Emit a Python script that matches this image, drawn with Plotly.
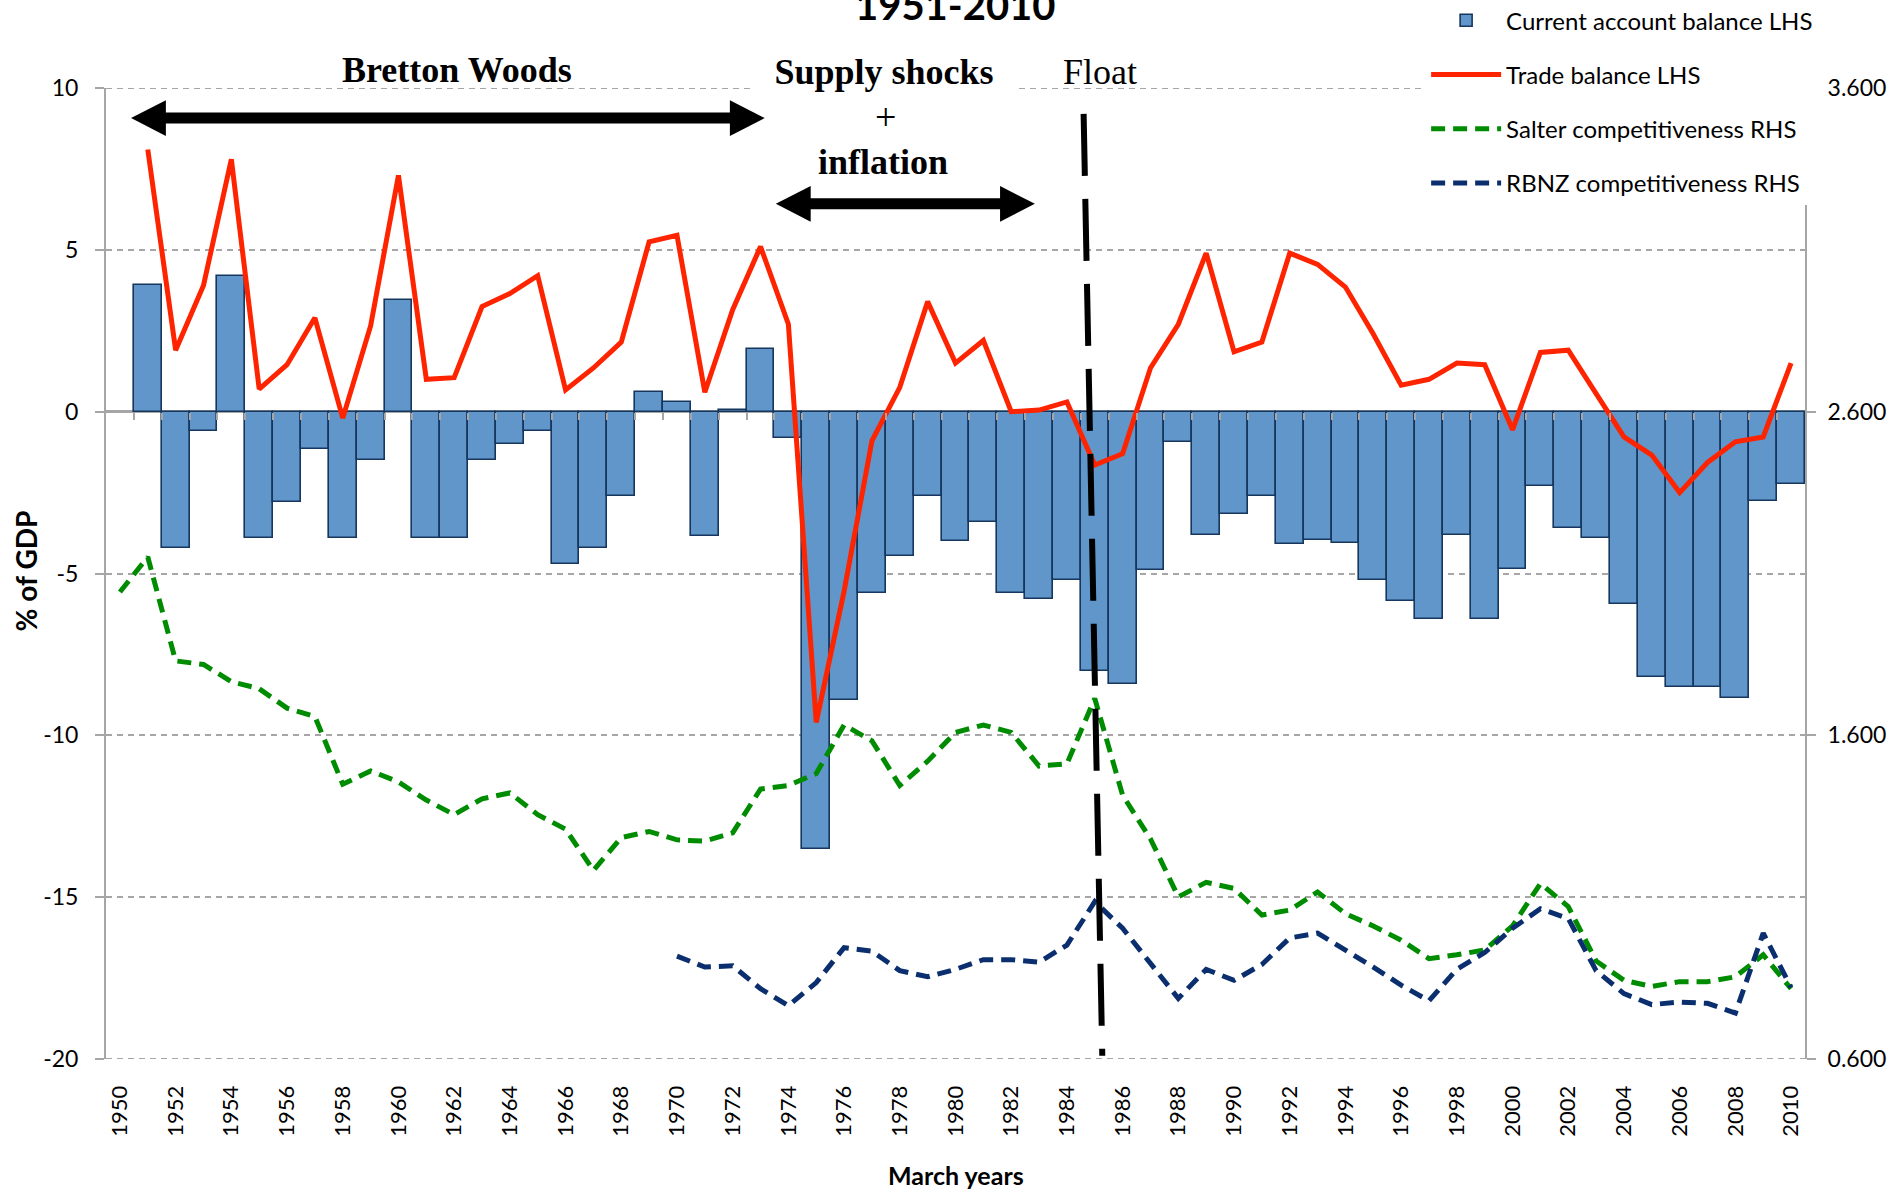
import plotly.graph_objects as go

years = list(range(1950, 2011))

current_account = [None,
    3.9, -4.2, -0.6, 4.2, -3.9, -2.8, -1.15, -3.9, -1.5, 3.45,
    -3.9, -3.9, -1.5, -1.0, -0.6, -4.7, -4.2, -2.6, 0.6, 0.3,
    -3.85, 0.05, 1.95, -0.8, -13.5, -8.9, -5.6, -4.45, -2.6, -4.0,
    -3.4, -5.6, -5.8, -5.2, -8.0, -8.4, -4.9, -0.95, -3.8, -3.15,
    -2.6, -4.1, -3.95, -4.05, -5.2, -5.85, -6.4, -3.8, -6.4, -4.85,
    -2.3, -3.6, -3.9, -5.95, -8.2, -8.5, -8.5, -8.85, -2.75, -2.25]

trade_balance = [None,
    8.1, 1.9, 3.9, 7.8, 0.7, 1.45, 2.9, -0.2, 2.65, 7.3,
    1.0, 1.05, 3.25, 3.65, 4.2, 0.67, 1.35, 2.15, 5.25, 5.45,
    0.6, 3.15, 5.1, 2.7, -9.6, -5.55, -0.9, 0.75, 3.4, 1.5,
    2.2, 0.0, 0.05, 0.3, -1.65, -1.3, 1.35, 2.7, 4.9, 1.85,
    2.15, 4.9, 4.55, 3.85, 2.4, 0.82, 1.0, 1.5, 1.45, -0.56,
    1.83, 1.9, 0.56, -0.78, -1.34, -2.5, -1.57, -0.93, -0.78, 1.5]

salter = [2.043,
    2.151, 1.830, 1.819, 1.766, 1.744, 1.684, 1.658, 1.449, 1.490, 1.456,
    1.400, 1.355, 1.404, 1.422, 1.355, 1.310, 1.183, 1.284, 1.303, 1.277,
    1.273, 1.299, 1.434, 1.445, 1.482, 1.632, 1.583, 1.445, 1.520, 1.609,
    1.632, 1.609, 1.505, 1.512, 1.714, 1.415, 1.280, 1.101, 1.146, 1.127,
    1.045, 1.060, 1.116, 1.049, 1.011, 0.967, 0.910, 0.922, 0.937, 1.011,
    1.142, 1.071, 0.903, 0.843, 0.824, 0.839, 0.839, 0.854, 0.922, 0.817]

rbnz = [None] * 20 + [0.918,
    0.884, 0.888, 0.817, 0.765, 0.836, 0.944, 0.933, 0.873, 0.854, 0.877,
    0.907, 0.907, 0.899, 0.952, 1.086, 1.004, 0.895, 0.787, 0.877, 0.843,
    0.892, 0.974, 0.989, 0.937, 0.884, 0.828, 0.780, 0.877, 0.929, 1.004,
    1.064, 1.034, 0.873, 0.802, 0.768, 0.776, 0.772, 0.742, 0.989, 0.821]

x_ticks = list(range(1950, 2011, 2))
lhs_ticks = [-20, -15, -10, -5, 0, 5, 10]
lhs_labels = ["-20", "-15", "-10", "-5", "0", "5", "10"]
rhs_ticks = [0.6, 1.6, 2.6, 3.6]

CALIBRI = "Lato"
SERIF = "Liberation Serif"
GRID = "#A6A6A6"

fig = go.Figure()
fig.add_trace(go.Bar(
    x=years, y=current_account, name="Current account balance LHS",
    marker=dict(color="#6096CA", line=dict(color="#17365D", width=1.6)),
    legendgroup="a"))
fig.add_trace(go.Scatter(
    x=years, y=trade_balance, name="Trade balance LHS", mode="lines",
    line=dict(color="#FF2400", width=5), legendgroup="b"))
fig.add_trace(go.Scatter(
    x=years, y=salter, name="Salter competitiveness RHS", mode="lines",
    line=dict(color="#008C00", width=5, dash="14px,8px"), yaxis="y2",
    legendgroup="c"))
fig.add_trace(go.Scatter(
    x=years, y=rbnz, name="RBNZ competitiveness RHS", mode="lines",
    line=dict(color="#0B2F6E", width=5, dash="14px,8px"), yaxis="y2",
    legendgroup="d"))
# dummy trace so the boundary-tick axis on the zero line is rendered
fig.add_trace(go.Scatter(x=[years[0]], y=[None], xaxis="x2", yaxis="y",
                         showlegend=False, hoverinfo="skip"))

# ---- decorations: period arrows, float line, labels ----
def double_arrow(x0, x1, y, head_len=1.25, head_half=0.55, width=11):
    return [
        dict(type="line", xref="x", yref="y", x0=x0 + head_len * 0.8, x1=x1 - head_len * 0.8,
             y0=y, y1=y, line=dict(color="black", width=width), layer="above"),
        dict(type="path", xref="x", yref="y", fillcolor="black", line=dict(width=0),
             path=f"M {x0},{y} L {x0 + head_len},{y + head_half} L {x0 + head_len},{y - head_half} Z",
             layer="above"),
        dict(type="path", xref="x", yref="y", fillcolor="black", line=dict(width=0),
             path=f"M {x1},{y} L {x1 - head_len},{y + head_half} L {x1 - head_len},{y - head_half} Z",
             layer="above"),
    ]

bretton_arrow = (1950.4, 1973.15, 9.07)
supply_arrow = (1973.55, 1982.85, 6.42)
float_line = (1984.6, 9.2, 1985.27, -19.9)

shapes = []
# dashed gridlines at both ends of the LHS range (plotly omits edge gridlines)
for edge in (lhs_ticks[0], lhs_ticks[-1]):
    shapes.append(dict(type="line", xref="paper", yref="y", x0=0, x1=1, y0=edge, y1=edge,
                       line=dict(color=GRID, width=2, dash="6px,5px"), layer="below"))
shapes += double_arrow(*bretton_arrow)
shapes += double_arrow(*supply_arrow)
shapes.append(dict(type="line", xref="x", yref="y",
                   x0=float_line[0], y0=float_line[1], x1=float_line[2], y1=float_line[3],
                   line=dict(color="black", width=6, dash="62px,23px"), layer="above"))

annotations = [
    dict(text="<b>Bretton Woods</b>", x=1962.1, y=1.0185, xref="x", yref="paper",
         yanchor="middle", showarrow=False, font=dict(family=SERIF, size=36, color="black")),
    dict(text="<b>Supply shocks</b>", x=1977.45, y=1.016, xref="x", yref="paper",
         yanchor="middle", showarrow=False, bgcolor="white", width=262, height=44,
         font=dict(family=SERIF, size=36, color="black")),
    dict(text="+", x=1977.5, y=9.1, xref="x", yref="y", showarrow=False,
         font=dict(family=SERIF, size=38, color="black")),
    dict(text="<b>inflation</b>", x=1977.4, y=7.72, xref="x", yref="y", showarrow=False,
         font=dict(family=SERIF, size=36, color="black")),
    dict(text="Float", x=1985.2, y=1.016, xref="x", yref="paper", yanchor="middle",
         showarrow=False, font=dict(family=SERIF, size=36, color="black")),
    dict(text="<b>1951-2010</b>", x=0.5, y=1.085, xref="paper", yref="paper",
         xanchor="center", yanchor="middle", showarrow=False,
         font=dict(family=CALIBRI, size=40, color="black")),
    dict(text="<b>% of GDP</b>", x=-0.0472, y=0.503, xref="paper", yref="paper",
         textangle=-90, showarrow=False, xanchor="center", yanchor="middle",
         font=dict(family=CALIBRI, size=28, color="black")),
    dict(text="<b>March years</b>", x=0.5, y=-0.1195, xref="paper", yref="paper",
         xanchor="center", yanchor="middle", showarrow=False,
         font=dict(family=CALIBRI, size=25, color="black")),
]

fig.update_layout(
    width=1894, height=1189,
    margin=dict(l=106, r=89, t=88, b=130, autoexpand=False),
    paper_bgcolor="white", plot_bgcolor="white",
    bargap=0,
    font=dict(family=CALIBRI, size=22, color="black"),
    shapes=shapes, annotations=annotations,
    showlegend=True,
    legend=dict(x=0.777, y=1.0925, xanchor="left", yanchor="top", bgcolor="white",
                font=dict(family=CALIBRI, size=24, color="black"),
                itemwidth=70, tracegroupgap=20, traceorder="grouped"),
    xaxis=dict(range=[1949.5, 2010.5], tickvals=x_ticks, tickangle=-90,
               ticks="outside", ticklen=17, tickcolor="rgba(0,0,0,0)",
               showline=False, showgrid=False, zeroline=False,
               tickfont=dict(family=CALIBRI, size=22)),
    xaxis2=dict(range=[1949.5, 2010.5], overlaying="x", anchor="free", position=2 / 3,
                tickvals=[y + 0.5 for y in years[:-1]], ticks="outside", ticklen=7,
                tickcolor=GRID, tickwidth=1.5, showticklabels=False,
                showline=False, showgrid=False, zeroline=False),
    yaxis=dict(range=[-20, 10], tickvals=lhs_ticks, ticktext=lhs_labels,
               showgrid=True, gridcolor=GRID,
               griddash="6px,5px", gridwidth=2, zeroline=True, zerolinecolor=GRID,
               zerolinewidth=3, showline=True, linecolor=GRID, linewidth=2,
               ticks="outside", ticklen=9, tickcolor=GRID, tickwidth=1.5,
               ticklabelstandoff=12,
               tickfont=dict(family=CALIBRI, size=23)),
    yaxis2=dict(range=[0.6, 3.6], tickvals=rhs_ticks, tickformat=".3f",
                overlaying="y", side="right", showgrid=False, zeroline=False,
                showline=True, linecolor=GRID, linewidth=2,
                ticks="outside", ticklen=9, tickcolor=GRID, tickwidth=1.5,
                ticklabelstandoff=7,
                tickfont=dict(family=CALIBRI, size=23)),
)

fig.write_html("out.html", config={"displayModeBar": False},
               post_script="document.body.style.margin='0';")
